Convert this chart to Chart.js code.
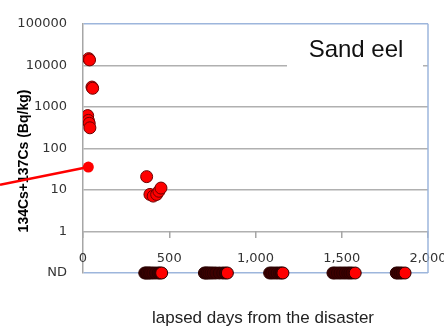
<!DOCTYPE html>
<html>
<head>
<meta charset="utf-8">
<script src="https://cdn.jsdelivr.net/npm/chart.js@4.4.0/dist/chart.umd.min.js"></script>
<style>
  html, body { margin: 0; padding: 0; background: #fff; }
  #wrap { width: 444px; height: 331px; }
</style>
</head>
<body>
<div id="wrap"><canvas id="chart" width="444" height="331"></canvas></div>
<script>
// ND samples sit on their own row below 1 Bq/kg
const ND = 0.1;

// detected samples (days after disaster, Bq/kg)
const detectedDays = [27, 31, 33, 36, 38, 40, 52, 56, 369, 388, 407, 427, 440, 452];
const detectedValues = [617, 472, 14500, 402, 13500, 313, 3000, 2800, 20.9, 7.8, 7.1, 7.8, 9.3, 11.1];

// not detected samples (days)
const ndDays = [
  358, 366, 374, 383, 392, 405, 420, 436, 446, 456,
  704, 712, 720, 730, 742, 755, 770, 790, 810, 825, 837,
  1082, 1095, 1110, 1125, 1140, 1150, 1159,
  1449, 1460, 1475, 1490, 1505, 1520, 1535, 1547, 1560, 1578,
  1816, 1826, 1838, 1850, 1867
];

// red line coming in from the left edge
const lineDays = [-481, 31];
const lineValues = [13.3, 35.6];

const yTicks = [ND, 1, 10, 100, 1000, 10000, 100000];
const xTicks = [0, 500, 1000, 1500, 2000];

const tickFont = { family: "DejaVu Sans", size: 13 };

// last point of each ND run is bright, the rest look dark
function ndColor(ctx) {
  const i = ctx.dataIndex;
  const next = ndDays[i + 1];
  return next === undefined || next - ndDays[i] > 60 ? "#ff0000" : "#3d0000";
}

const extras = {
  id: "extras",
  beforeDatasetsDraw(chart) {
    const { ctx, chartArea: a } = chart;
    ctx.save();
    // right frame line
    ctx.strokeStyle = "#9db6dc";
    ctx.lineWidth = 1.5;
    ctx.beginPath();
    ctx.moveTo(a.right, a.top);
    ctx.lineTo(a.right, a.bottom);
    ctx.stroke();
    // y title
    ctx.translate(24, 161);
    ctx.rotate(-Math.PI / 2);
    ctx.font = 'bold 14px "Liberation Sans"';
    ctx.fillStyle = "#000";
    ctx.textAlign = "center";
    ctx.textBaseline = "middle";
    ctx.fillText("134Cs+137Cs (Bq/kg)", 0, 0);
    ctx.restore();
  },
  afterDraw(chart) {
    const { ctx, chartArea: a } = chart;
    ctx.save();
    // "Sand eel" box hides the grid line
    ctx.fillStyle = "#fff";
    ctx.fillRect(a.right - 141, a.top + 8, 136, 46);
    ctx.fillStyle = "#111";
    ctx.font = '24px "Liberation Sans"';
    ctx.textAlign = "center";
    ctx.textBaseline = "alphabetic";
    ctx.fillText("Sand eel", a.right - 72, a.top + 33);
    // x title
    ctx.fillStyle = "#222";
    ctx.font = '17px "Liberation Sans"';
    ctx.textBaseline = "middle";
    ctx.fillText("lapsed days from the disaster", 263, 318);
    ctx.restore();
  },
};

new Chart(document.getElementById("chart"), {
  type: "scatter",
  data: {
    datasets: [
      {
        label: "line",
        data: lineDays.map((d, i) => ({ x: d, y: lineValues[i] })),
        showLine: true,
        borderColor: "#ff0000",
        borderWidth: 2.5,
        pointRadius: [0, 5.5],
        pointBackgroundColor: "#ff0000",
        pointBorderWidth: 0,
        clip: false,
      },
      {
        label: "detected",
        data: detectedDays.map((d, i) => ({ x: d, y: detectedValues[i] })),
        pointRadius: 6,
        pointBackgroundColor: "#ff0000",
        pointBorderColor: "#6e0000",
        pointBorderWidth: 1,
      },
      {
        label: "ND",
        data: ndDays.map((d) => ({ x: d, y: ND })),
        pointRadius: 6,
        pointBackgroundColor: ndColor,
        pointBorderColor: "#2a0000",
        pointBorderWidth: 1,
        clip: false,
      },
    ],
  },
  options: {
    responsive: false,
    animation: false,
    events: [],
    layout: { padding: { top: 16, right: 16, bottom: 58, left: 0 } },
    plugins: {
      legend: { display: false },
      tooltip: { enabled: false },
    },
    scales: {
      y: {
        type: "logarithmic",
        min: ND,
        max: 100000,
        afterBuildTicks: (s) => {
          s.ticks = yTicks.map((v) => ({ value: v }));
        },
        afterFit: (s) => {
          s.width = 83;
        },
        ticks: {
          padding: 16,
          color: "#333",
          font: tickFont,
          callback: (v) => (v === ND ? "ND" : String(v)),
        },
        grid: {
          color: (c) => (c.tick && (c.tick.value === 100000 || c.tick.value === ND) ? "#9db6dc" : "#b0b0b0"),
          lineWidth: 1.5,
          drawTicks: false,
        },
        border: { color: "#a6a6a6", width: 1.5 },
      },
      x: {
        type: "linear",
        axis: "x",
        min: 0,
        max: 2000,
        position: { y: 1 },
        afterBuildTicks: (s) => {
          s.ticks = xTicks.map((v) => ({ value: v }));
        },
        afterFit: (s) => {
          s.paddingLeft = 0;
          s.paddingRight = 0;
        },
        ticks: {
          padding: 12,
          color: "#333",
          font: tickFont,
          maxRotation: 0,
          callback: (v) => v.toLocaleString("en-US"),
        },
        grid: {
          drawOnChartArea: false,
          drawTicks: true,
          tickLength: 7,
          color: "#a6a6a6",
          lineWidth: 1.5,
        },
        border: { display: false },
      },
    },
  },
  plugins: [extras],
});
</script>
</body>
</html>
